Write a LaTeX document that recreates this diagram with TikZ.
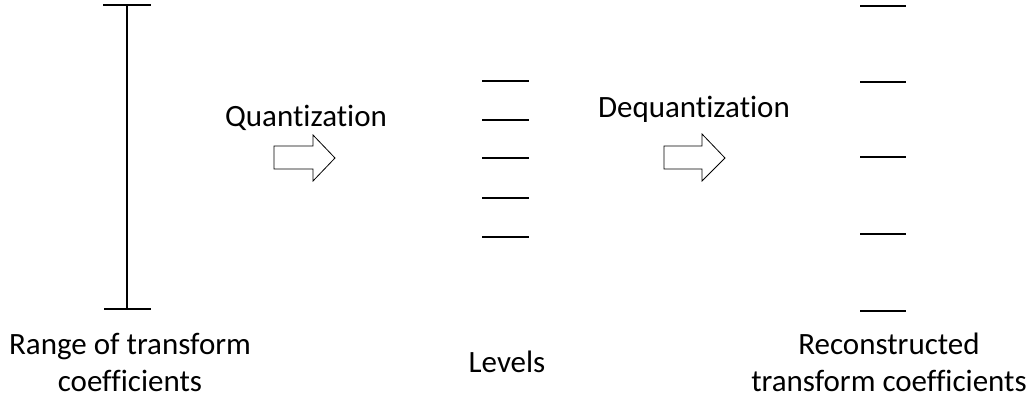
\documentclass[tikz,border=0pt]{standalone}
\usepackage{fontspec}
\setmainfont{Carlito}[Ligatures=NoCommon]
\begin{document}
\begin{tikzpicture}[x=1pt,y=-1pt,
  tick/.style={line width=2pt},
  blockarrow/.style={draw,line width=0.8pt,fill=white,line join=miter},
  lbl/.style={font=\fontsize{31}{37}\selectfont,inner sep=0pt,align=center}]
\useasboundingbox (0,0) rectangle (1029,398);
% range bar
\coordinate (rt) at (127,5.5);
\coordinate (rb) at (127,309.5);
\draw[tick] (rt) -- (rb);
\draw[tick] (103,5.5) -- (151,5.5);
\draw[tick] (104,309.5) -- (151,309.5);
% arrows
\draw[blockarrow] (274,146) -- (313,146) -- (313,135) -- (335,158) -- (313,181) -- (313,169) -- (274,169) -- cycle;
\draw[blockarrow] (664,146) -- (702,146) -- (702,134) -- (725,158) -- (702,181) -- (702,169) -- (664,169) -- cycle;
% levels
\foreach \y in {81,120,158,198,237} \draw[tick] (482,\y) -- (529,\y);
% reconstructed
\foreach \y in {6,82,157,234,311} \draw[tick] (860,\y) -- (906,\y);
% labels
\node[lbl,anchor=base] (q) at (306,127) {Quantization};
\node[lbl,anchor=base] (d) at (694,118) {Dequantization};
\node[lbl,anchor=base] (lv) at (507,373) {Levels};
\node[lbl,anchor=north] (rg) at (130,333) {Range of transform\\coefficients};
\node[lbl,anchor=north] (rc) at (889,333) {Reconstructed\\transform coefficients};
\end{tikzpicture}
\end{document}
